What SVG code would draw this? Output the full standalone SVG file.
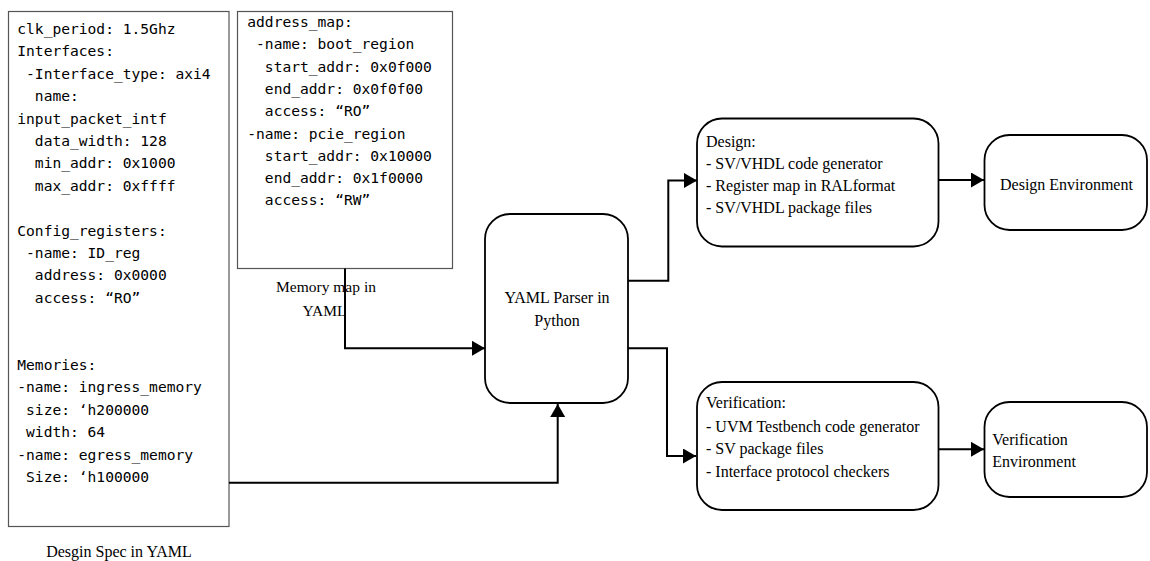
<svg xmlns="http://www.w3.org/2000/svg" width="1150" height="561" viewBox="0 0 1150 561">
<style>
.spec{fill:#fff;stroke:#555;stroke-width:1.2}
.node{fill:#fff;stroke:#000;stroke-width:1.8}
.mono{font-family:"DejaVu Sans Mono","Liberation Mono",monospace;font-size:14.6px;fill:#000;white-space:pre}
.serif{font-family:"Liberation Serif","Times New Roman",serif;font-size:16px;fill:#000}
.cap{font-family:"Liberation Serif","Times New Roman",serif;font-size:15.5px;fill:#000}
.conn{fill:none;stroke:#000;stroke-width:2}
</style>
<defs>
<marker id="arr" markerUnits="userSpaceOnUse" markerWidth="14" markerHeight="16" refX="13" refY="7.5" orient="auto">
<path d="M0,0 L13,7.5 L0,15 z" fill="#000"/>
</marker>
</defs>

<g id="spec">
<rect class="spec" x="8.5" y="11.5" width="220.5" height="515"/>
<text class="mono" xml:space="preserve">
<tspan x="17.3" y="34">clk_period: 1.5Ghz</tspan>
<tspan x="17.3" y="56.4">Interfaces:</tspan>
<tspan x="17.3" y="78.8"> -Interface_type: axi4</tspan>
<tspan x="17.3" y="101.2">  name:</tspan>
<tspan x="17.3" y="123.6">input_packet_intf</tspan>
<tspan x="17.3" y="146">  data_width: 128</tspan>
<tspan x="17.3" y="168.4">  min_addr: 0x1000</tspan>
<tspan x="17.3" y="190.8">  max_addr: 0xffff</tspan>
<tspan x="17.3" y="235.6">Config_registers:</tspan>
<tspan x="17.3" y="258"> -name: ID_reg</tspan>
<tspan x="17.3" y="280.4">  address: 0x0000</tspan>
<tspan x="17.3" y="302.8">  access: “RO”</tspan>
<tspan x="17.3" y="370">Memories:</tspan>
<tspan x="17.3" y="392.4">-name: ingress_memory</tspan>
<tspan x="17.3" y="414.8"> size: ‘h200000</tspan>
<tspan x="17.3" y="437.2"> width: 64</tspan>
<tspan x="17.3" y="459.6">-name: egress_memory</tspan>
<tspan x="17.3" y="482"> Size: ‘h100000</tspan>
</text>
<text class="serif" x="119" y="557" text-anchor="middle">Desgin Spec in YAML</text>
</g>

<g id="memmap">
<rect class="spec" x="237.5" y="11.5" width="215" height="257"/>
<text class="mono" xml:space="preserve">
<tspan x="247.3" y="27">address_map:</tspan>
<tspan x="247.3" y="49.3"> -name: boot_region</tspan>
<tspan x="247.3" y="71.6">  start_addr: 0x0f000</tspan>
<tspan x="247.3" y="93.9">  end_addr: 0x0f0f00</tspan>
<tspan x="247.3" y="116.2">  access: “RO”</tspan>
<tspan x="247.3" y="138.5">-name: pcie_region</tspan>
<tspan x="247.3" y="160.8">  start_addr: 0x10000</tspan>
<tspan x="247.3" y="183.1">  end_addr: 0x1f0000</tspan>
<tspan x="247.3" y="205.4">  access: “RW”</tspan>
</text>
<text class="cap" text-anchor="middle"><tspan x="326" y="292">Memory map in</tspan><tspan x="324.5" y="316">YAML</tspan></text>
</g>

<g id="parser">
<rect class="node" x="485" y="214" width="143" height="189" rx="25" ry="25"/>
<text class="serif" text-anchor="middle"><tspan x="557" y="303.3">YAML Parser in</tspan><tspan x="557" y="325.5">Python</tspan></text>
</g>

<g id="design">
<rect class="node" x="697" y="118.5" width="241.5" height="128" rx="25" ry="25"/>
<text class="serif"><tspan x="706" y="146.7">Design:</tspan><tspan x="706" y="168.5">- SV/VHDL code generator</tspan><tspan x="706" y="190.7">- Register map in RALformat</tspan><tspan x="706" y="212.7">- SV/VHDL package files</tspan></text>
</g>

<g id="design-env">
<rect class="node" x="984.5" y="135" width="162.5" height="95" rx="25" ry="25"/>
<text class="serif" x="1000" y="190">Design Environment</text>
</g>

<g id="verification">
<rect class="node" x="697" y="382" width="241.5" height="128" rx="25" ry="25"/>
<text class="serif"><tspan x="706" y="408.3">Verification:</tspan><tspan x="706" y="431.5">- UVM Testbench code generator</tspan><tspan x="706" y="453.5">- SV package files</tspan><tspan x="706" y="476.5">- Interface protocol checkers</tspan></text>
</g>

<g id="verification-env">
<rect class="node" x="984.5" y="402" width="162.5" height="95" rx="25" ry="25"/>
<text class="serif"><tspan x="992.3" y="445">Verification</tspan><tspan x="992.3" y="466.5">Environment</tspan></text>
</g>

<g id="connectors">
<path class="conn" d="M229,482.7 H557.7 V404" marker-end="url(#arr)"/>
<path class="conn" d="M345,268.5 V348.3 H485" marker-end="url(#arr)"/>
<path class="conn" d="M628,280.7 H668.3 V180.5 H697" marker-end="url(#arr)"/>
<path class="conn" d="M628,348.3 H667 V456 H696" marker-end="url(#arr)"/>
<path class="conn" d="M938.5,180 H984" marker-end="url(#arr)"/>
<path class="conn" d="M938.5,449.3 H984" marker-end="url(#arr)"/>
</g>
</svg>
